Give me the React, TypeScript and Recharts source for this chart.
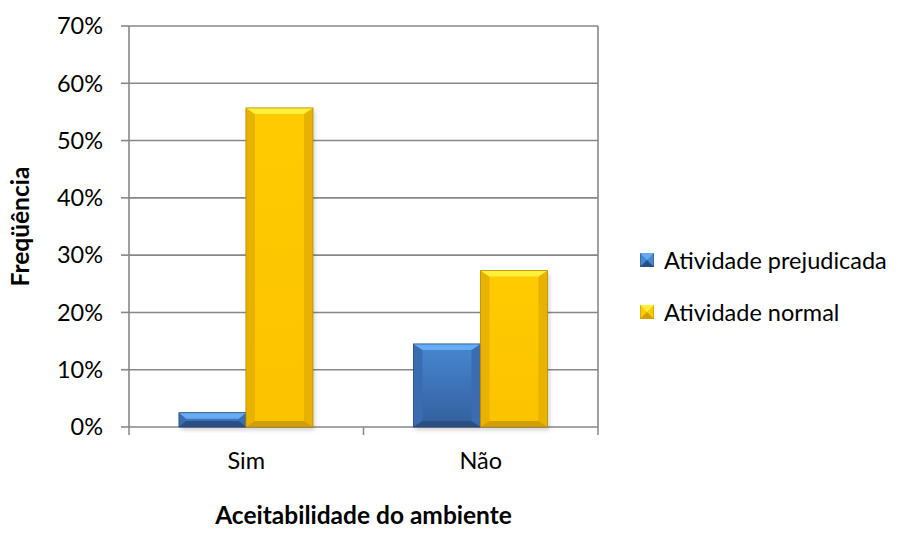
import { BarChart, Bar, XAxis, YAxis, CartesianGrid, Legend, Label } from 'recharts'

const categories = ['Sim', 'Não']
const prejudicada = [0.025, 0.145]
const normal = [0.557, 0.273]
const yTicks = [0, 0.1, 0.2, 0.3, 0.4, 0.5, 0.6, 0.7]
const seriesNames = ['Atividade prejudicada', 'Atividade normal']

const data = categories.map((c, i) => ({ name: c, prejudicada: prejudicada[i], normal: normal[i] }))

const FONT = 'Lato, "Noto Sans", sans-serif'
const GRID = '#878787'
const TEXT_SIZE = 23.5
const TITLE_SIZE = 24.5

const BLUE = { id: 'b', top: '#66acf5', hi: '#4887d2', lo: '#335f9c', side: '#3a6db0', bottom: '#2a4f82', edge: '#2a4a78' }
const YELLOW = { id: 'y', top: '#fff03a', hi: '#ffcb00', lo: '#fbc300', side: '#e8b200', bottom: '#d29e00', edge: '#b88a00' }

function BevelBar(props: any) {
  const { x, y, width: w, height: h, scheme } = props
  if (!h || h <= 0) return null
  const b = Math.min(9, h / 2, w / 2)
  const bt = Math.min(6, h / 2)
  return (
    <g>
      <rect x={x + 2} y={y + 3} width={w} height={h} fill="rgba(0,0,0,0.18)" filter="url(#shadow)" />
      <rect x={x} y={y} width={w} height={h} fill={`url(#grad-${scheme.id})`} />
      <polygon points={`${x},${y} ${x + b},${y + bt} ${x + b},${y + h - bt} ${x},${y + h}`} fill={scheme.side} />
      <polygon points={`${x + w},${y} ${x + w - b},${y + bt} ${x + w - b},${y + h - bt} ${x + w},${y + h}`} fill={scheme.side} />
      <polygon points={`${x},${y} ${x + w},${y} ${x + w - b},${y + bt} ${x + b},${y + bt}`} fill={scheme.top} />
      <polygon points={`${x},${y + h} ${x + w},${y + h} ${x + w - b},${y + h - bt} ${x + b},${y + h - bt}`} fill={scheme.bottom} />
      <rect x={x} y={y} width={w} height={h} fill="none" stroke={scheme.edge} strokeWidth={0.8} />
    </g>
  )
}

function XTick(props: any) {
  const { x, y, payload, index, visibleTicksCount, width } = props
  const half = payload?.offset ?? width / (2 * (visibleTicksCount || 2))
  const top = y - 8
  return (
    <g>
      <line x1={x - half} x2={x - half} y1={top} y2={top + 8} stroke={GRID} strokeWidth={1.5} />
      {index === visibleTicksCount - 1 && (
        <line x1={x + half} x2={x + half} y1={top} y2={top + 8} stroke={GRID} strokeWidth={1.5} />
      )}
      <text x={x} y={top + 36} textAnchor="middle" dominantBaseline="middle" fontFamily={FONT} fontSize={TEXT_SIZE} fill="#000">
        {payload.value}
      </text>
    </g>
  )
}

function LegendBox() {
  const schemes = [BLUE, YELLOW]
  return (
    <div style={{ fontFamily: FONT, fontSize: TEXT_SIZE, color: '#000' }}>
      {seriesNames.map((n, i) => (
        <div key={n} style={{ display: 'flex', alignItems: 'center', height: 52 }}>
          <svg width={14} height={14} style={{ marginRight: 10 }}>
            <rect x={0} y={0} width={14} height={14} fill={schemes[i].hi} stroke={schemes[i].edge} />
            <polygon points="0,0 14,0 7,7" fill={schemes[i].top} />
            <polygon points="0,14 14,14 7,7" fill={schemes[i].bottom} />
          </svg>
          <span>{n}</span>
        </div>
      ))}
    </div>
  )
}

export default function App() {
  return (
    <div style={{ position: 'absolute', left: 0, top: 0, width: 901, height: 534, background: '#fff' }}>
      <BarChart
        width={901}
        height={534}
        data={data}
        margin={{ top: 26, right: 302, bottom: 0, left: 0 }}
        barCategoryGap="21.3%"
        barGap={0}
      >
        <defs>
          {[BLUE, YELLOW].map((s) => (
            <linearGradient key={s.id} id={`grad-${s.id}`} x1="0" y1="0" x2="0" y2="1">
              <stop offset="0%" stopColor={s.hi} />
              <stop offset="100%" stopColor={s.lo} />
            </linearGradient>
          ))}
          <filter id="shadow" x="-20%" y="-20%" width="140%" height="140%">
            <feGaussianBlur stdDeviation="2" />
          </filter>
        </defs>
        <CartesianGrid vertical={false} stroke={GRID} strokeWidth={1.6} />
        <XAxis
          dataKey="name"
          height={107}
          axisLine={false}
          tickLine={false}
          tick={<XTick />}
          interval={0}
        >
          <Label
            content={(p: any) => (
              <text
                x={p.viewBox.x + p.viewBox.width / 2}
                y={518}
                textAnchor="middle"
                dominantBaseline="middle"
                fontFamily={FONT}
                fontWeight="bold"
                fontSize={TITLE_SIZE}
                fill="#000"
              >
                Aceitabilidade do ambiente
              </text>
            )}
          />
        </XAxis>
        <YAxis
          width={129}
          domain={[0, 0.7]}
          ticks={yTicks}
          interval={0}
          tickFormatter={(v: number) => `${Math.round(v * 100)}%`}
          axisLine={{ stroke: GRID, strokeWidth: 1.6 }}
          tickLine={{ stroke: GRID, strokeWidth: 1.6 }}
          tickSize={8}
          tickMargin={18}
          tick={{ fontFamily: FONT, fontSize: TEXT_SIZE, fill: '#000' }}
        >
          <Label
            content={(p: any) => {
              const cx = 23
              const cy = p.viewBox.y + p.viewBox.height / 2
              return (
                <text
                  x={cx}
                  y={cy}
                  transform={`rotate(-90 ${cx} ${cy})`}
                  textAnchor="middle"
                  dominantBaseline="middle"
                  fontFamily={FONT}
                  fontWeight="bold"
                  fontSize={TITLE_SIZE}
                  fill="#000"
                >
                  Freqüência
                </text>
              )
            }}
          />
        </YAxis>
        <YAxis
          yAxisId="edge"
          orientation="right"
          width={1}
          tick={false}
          tickLine={false}
          axisLine={{ stroke: GRID, strokeWidth: 1.6 }}
          domain={[0, 0.7]}
        />
        <Legend
          layout="vertical"
          verticalAlign="middle"
          align="center"
          content={<LegendBox />}
          wrapperStyle={{ left: 640, top: 234, width: 261 }}
        />
        <Bar
          dataKey="prejudicada"
          name={seriesNames[0]}
          fill={BLUE.hi}
          isAnimationActive={false}
          shape={(p: any) => <BevelBar {...p} scheme={BLUE} />}
        />
        <Bar
          dataKey="normal"
          name={seriesNames[1]}
          fill={YELLOW.hi}
          isAnimationActive={false}
          shape={(p: any) => <BevelBar {...p} scheme={YELLOW} />}
        />
      </BarChart>
    </div>
  )
}
